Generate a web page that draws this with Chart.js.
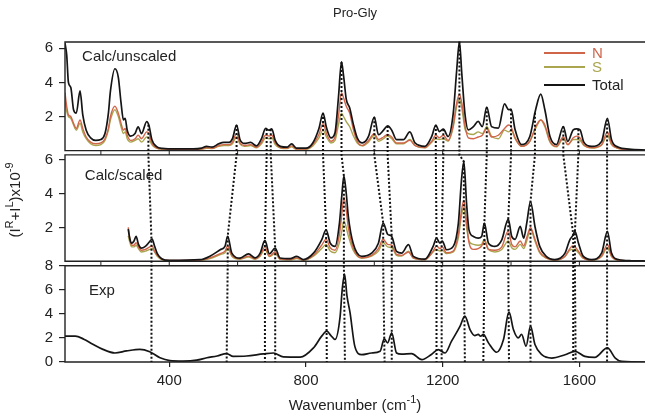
<!DOCTYPE html>
<html>
<head>
<meta charset="utf-8">
<script src="https://cdn.jsdelivr.net/npm/chart.js@4.4.1/dist/chart.umd.min.js"></script>
<style>
  html, body { margin: 0; padding: 0; background: #fff; overflow: hidden; }
</style>
</head>
<body>
<canvas id="chart" width="645" height="418"></canvas>
<script>
// Pro-Gly ROA 스펙트럼 - 계산(unscaled/scaled) vs 실험

// 축 눈금
const xTicks = [400, 800, 1200, 1600];
const gapTicks = [200, 400, 600, 800, 1000, 1200, 1400, 1600];
const calcTicks = [2, 4, 6];
const expTicks = [0, 2, 4, 6, 8];
const legendLabels = ['N', 'S', 'Total'];

// Calc/unscaled
const unscaledX = [95, 100, 105, 112, 120, 128, 139, 147, 157, 170,
  185, 200, 212, 222, 228, 241, 251, 259, 266, 271,
  277, 287, 300, 309, 319, 334, 341, 349, 362, 380,
  420, 470, 495, 509, 525, 545, 560, 575, 585, 597,
  607, 620, 638, 655, 670, 682, 692, 700, 710, 725,
  745, 758, 772, 800, 820, 838, 850, 860, 873, 885,
  895, 904, 910, 918, 928, 938, 950, 965, 983, 1000,
  1012, 1027, 1039, 1051, 1065, 1085, 1104, 1119, 1148, 1168,
  1180, 1190, 1202, 1216, 1231, 1241, 1249, 1256, 1265, 1275,
  1290, 1304, 1316, 1329, 1343, 1363, 1381, 1393, 1400, 1412,
  1431, 1455, 1472, 1487, 1499, 1514, 1533, 1553, 1566, 1582,
  1592, 1602, 1613, 1636, 1665, 1682, 1694, 1714, 1745, 1800];
const unscaledTotal = [6.3, 5.6, 4.0, 3.7, 2.4, 2.2, 3.5, 2.1, 1.2, 0.75,
  0.6, 0.65, 1.0, 2.2, 3.5, 4.8, 4.3, 2.8, 1.8, 1.9,
  1.2, 0.85, 1.0, 1.4, 1.0, 1.7, 1.45, 0.65, 0.25, 0.13,
  0.1, 0.1, 0.15, 0.25, 0.2, 0.4, 0.48, 0.48, 0.7, 1.5,
  0.65, 0.42, 0.48, 0.28, 0.7, 1.3, 1.2, 1.28, 0.6, 0.25,
  0.2, 0.4, 0.15, 0.15, 0.45, 1.3, 2.2, 1.35, 0.75, 1.05,
  3.1, 5.2, 4.4, 3.0, 2.5, 1.6, 0.75, 0.45, 0.83, 1.96,
  0.93, 1.2, 1.45, 1.2, 0.64, 0.64, 1.1, 0.45, 0.25, 0.83,
  1.5, 1.12, 1.26, 0.83, 2.2, 4.7, 6.4, 4.5, 2.2, 1.22,
  1.41, 1.71, 1.41, 2.55, 1.41, 1.32, 2.74, 2.4, 2.43, 1.22,
  0.35, 0.83, 2.4, 3.31, 2.4, 0.83, 0.35, 1.41, 0.54, 1.22,
  1.28, 1.22, 0.5, 0.25, 0.54, 1.9, 0.64, 0.2, 0.09, 0.03];
const unscaledN = [3.4, 2.6, 2.1, 2.0, 1.6, 1.3, 1.8, 1.3, 0.8, 0.5,
  0.4, 0.45, 0.7, 1.3, 2.0, 2.6, 2.2, 1.6, 1.2, 1.3,
  0.9, 0.6, 0.7, 0.9, 0.7, 1.1, 1.0, 0.45, 0.18, 0.1,
  0.07, 0.07, 0.1, 0.18, 0.14, 0.3, 0.35, 0.35, 0.5, 1.0,
  0.45, 0.3, 0.35, 0.2, 0.5, 0.9, 0.85, 0.9, 0.45, 0.18,
  0.15, 0.28, 0.1, 0.1, 0.35, 0.95, 1.6, 1.0, 0.55, 0.8,
  2.0, 3.4, 3.1, 2.6, 2.2, 1.3, 0.55, 0.3, 0.6, 1.0,
  0.65, 0.8, 0.95, 0.8, 0.45, 0.45, 0.6, 0.3, 0.18, 0.55,
  0.9, 0.75, 0.9, 0.6, 1.5, 2.8, 3.3, 2.8, 1.5, 0.75,
  0.7, 0.8, 0.9, 1.3, 0.8, 0.9, 1.3, 1.5, 1.4, 0.75,
  0.25, 0.55, 1.4, 1.8, 1.5, 0.55, 0.25, 0.8, 0.35, 0.75,
  0.85, 0.75, 0.35, 0.18, 0.35, 1.1, 0.4, 0.14, 0.06, 0.02];
const unscaledS = [2.9, 2.3, 2.0, 1.9, 1.5, 1.2, 1.6, 1.1, 0.7, 0.4,
  0.3, 0.35, 0.6, 1.2, 1.8, 2.4, 2.0, 1.4, 1.0, 1.1,
  0.7, 0.5, 0.6, 0.7, 0.5, 0.8, 0.7, 0.35, 0.15, 0.08,
  0.06, 0.06, 0.08, 0.14, 0.12, 0.25, 0.3, 0.3, 0.4, 0.8,
  0.38, 0.25, 0.3, 0.16, 0.4, 0.75, 0.7, 0.75, 0.35, 0.15,
  0.12, 0.22, 0.08, 0.08, 0.28, 0.75, 1.2, 0.8, 0.45, 0.6,
  1.5, 2.2, 2.0, 1.7, 1.4, 0.9, 0.45, 0.28, 0.5, 0.9,
  0.55, 0.7, 0.85, 0.7, 0.4, 0.4, 0.65, 0.3, 0.16, 0.5,
  0.7, 0.65, 0.7, 0.55, 1.4, 2.6, 3.0, 2.5, 1.3, 1.0,
  0.95, 1.1, 1.0, 1.4, 0.85, 0.7, 1.2, 1.1, 1.2, 0.7,
  0.25, 0.55, 1.3, 1.8, 1.4, 0.5, 0.22, 0.7, 0.35, 0.65,
  0.65, 0.6, 0.3, 0.15, 0.32, 0.9, 0.35, 0.12, 0.05, 0.02];

// Calc/scaled
const scaledX = [280, 285, 290, 297, 303, 310, 318, 330, 343, 350,
  357, 365, 378, 400, 490, 519, 549, 563, 571, 583,
  607, 632, 651, 666, 680, 693, 710, 724, 754, 773,
  792, 822, 846, 859, 871, 885, 898, 905, 911, 918,
  924, 938, 963, 992, 1012, 1026, 1039, 1051, 1065, 1080,
  1100, 1114, 1148, 1172, 1182, 1192, 1199, 1211, 1231, 1246,
  1255, 1262, 1270, 1277, 1290, 1304, 1314, 1322, 1334, 1353,
  1373, 1392, 1402, 1412, 1427, 1437, 1446, 1457, 1470, 1484,
  1503, 1528, 1558, 1572, 1580, 1587, 1597, 1611, 1636, 1665,
  1682, 1694, 1714, 1753, 1800];
const scaledTotal = [1.9, 1.3, 1.07, 1.2, 1.47, 1.0, 0.78, 0.88, 1.17, 1.31,
  0.9, 0.45, 0.15, 0.05, 0.09, 0.3, 0.68, 0.88, 1.47, 0.48,
  0.19, 0.44, 0.2, 0.48, 1.23, 0.44, 0.78, 0.19, 0.15, 0.29,
  0.1, 0.48, 1.27, 1.86, 1.07, 0.88, 2.26, 3.9, 5.06, 4.0,
  2.65, 1.07, 0.29, 0.48, 1.07, 2.26, 1.6, 1.47, 0.58, 0.48,
  0.98, 0.29, 0.13, 0.88, 1.37, 1.07, 1.2, 0.68, 0.88, 2.26,
  4.8, 5.9, 3.4, 1.86, 1.47, 1.37, 1.47, 2.26, 1.07, 0.88,
  1.27, 2.5, 1.47, 1.3, 2.06, 1.37, 2.26, 3.54, 2.06, 0.88,
  0.29, 0.1, 0.48, 1.27, 1.5, 1.77, 1.1, 0.3, 0.1, 0.48,
  1.77, 0.48, 0.1, 0.03, 0.01];
const scaledN = [2.0, 1.3, 0.95, 0.95, 1.1, 0.85, 0.65, 0.7, 0.85, 0.9,
  0.6, 0.35, 0.12, 0.04, 0.07, 0.2, 0.45, 0.6, 0.9, 0.35,
  0.15, 0.3, 0.15, 0.35, 0.85, 0.3, 0.55, 0.14, 0.1, 0.2,
  0.07, 0.35, 0.95, 1.3, 0.8, 0.65, 1.6, 2.8, 3.8, 3.0,
  2.0, 0.8, 0.2, 0.35, 0.75, 1.3, 1.0, 0.95, 0.4, 0.35,
  0.55, 0.2, 0.1, 0.6, 0.9, 0.75, 0.85, 0.5, 0.6, 1.6,
  3.0, 3.6, 2.3, 1.1, 0.7, 0.75, 0.9, 1.2, 0.7, 0.65,
  0.85, 1.8, 1.0, 0.85, 1.2, 0.9, 1.4, 2.0, 1.3, 0.55,
  0.2, 0.07, 0.3, 0.75, 0.9, 0.85, 0.6, 0.2, 0.07, 0.3,
  1.0, 0.3, 0.07, 0.02, 0.01];
const scaledS = [1.5, 1.1, 0.85, 0.85, 0.95, 0.75, 0.55, 0.6, 0.7, 0.75,
  0.55, 0.3, 0.1, 0.03, 0.05, 0.15, 0.4, 0.5, 0.75, 0.3,
  0.12, 0.25, 0.12, 0.3, 0.7, 0.28, 0.45, 0.12, 0.08, 0.16,
  0.06, 0.3, 0.75, 1.0, 0.6, 0.5, 1.1, 1.8, 2.4, 2.0,
  1.5, 0.65, 0.18, 0.3, 0.6, 1.1, 0.85, 0.8, 0.35, 0.3,
  0.6, 0.18, 0.08, 0.55, 0.7, 0.6, 0.65, 0.45, 0.55, 1.4,
  2.7, 3.2, 2.0, 1.2, 1.0, 0.95, 1.0, 1.3, 0.7, 0.55,
  0.7, 1.2, 0.8, 0.7, 1.0, 0.75, 1.2, 1.9, 1.2, 0.5,
  0.18, 0.06, 0.28, 0.65, 0.7, 0.7, 0.5, 0.18, 0.06, 0.28,
  0.8, 0.28, 0.06, 0.02, 0.01];

// Exp
const expX = [95, 125, 150, 175, 206, 241, 275, 314, 343, 373,
  402, 440, 480, 510, 540, 568, 587, 626, 675, 705,
  734, 783, 822, 846, 861, 873, 885, 900, 906, 913,
  920, 929, 943, 963, 992, 1017, 1029, 1039, 1051, 1065,
  1080, 1109, 1139, 1168, 1187, 1207, 1226, 1251, 1265, 1280,
  1294, 1304, 1311, 1319, 1334, 1358, 1378, 1394, 1407, 1421,
  1431, 1444, 1457, 1470, 1490, 1519, 1558, 1587, 1616, 1645,
  1682, 1705, 1724, 1800];
const expY = [2.15, 2.15, 1.9, 1.5, 1.05, 0.75, 0.92, 1.05, 0.85, 0.35,
  0.12, 0.08, 0.15, 0.35, 0.5, 0.7, 0.47, 0.5, 0.67, 0.75,
  0.42, 0.4, 1.17, 2.15, 2.56, 2.2, 1.87, 3.8, 6.0, 7.3,
  5.5, 4.1, 1.3, 0.61, 0.75, 0.89, 1.92, 1.59, 2.43, 0.75,
  0.65, 0.7, 0.2, 0.65, 1.03, 0.75, 1.73, 2.98, 3.82, 2.7,
  2.2, 2.29, 2.15, 2.29, 1.59, 0.81, 1.87, 4.16, 2.7, 2.0,
  2.29, 1.31, 2.98, 1.45, 0.61, 0.33, 0.6, 0.89, 0.47, 0.38,
  1.17, 0.33, 0.05, 0.0];

// 대응 피크 (점선 연결)
const peaksUnscaled = [339, 597, 685, 697, 850, 904, 1000, 1039, 1180, 1202, 1249, 1329, 1400, 1470, 1553, 1597, 1681];
const peaksScaled = [348, 571, 680, 710, 859, 911, 1026, 1051, 1182, 1197, 1262, 1322, 1392, 1457, 1582, 1587, 1681];
const peaksExp = [348, 568, 680, 710, 861, 914, 1030, 1051, 1182, 1197, 1265, 1319, 1394, 1457, 1582, 1589, 1681];

const COLOR_N = '#d0654a';
const COLOR_S = '#a9a64f';
const COLOR_T = '#151515';
const TEXT = '#222';
const FONT = "'Liberation Sans', Arial, sans-serif";

Chart.defaults.font.family = FONT;
Chart.defaults.font.size = 15;
Chart.defaults.color = TEXT;

function pts(xs, ys) {
  return xs.map((x, i) => ({ x: x, y: ys[i] }));
}

// 선형 보간 (점선 시작점 높이용)
function valueAt(xs, ys, v) {
  for (let i = 1; i < xs.length; i++) {
    if (xs[i] >= v) {
      const t = (v - xs[i - 1]) / (xs[i] - xs[i - 1]);
      return ys[i - 1] + t * (ys[i] - ys[i - 1]);
    }
  }
  return ys[ys.length - 1];
}

function lineSet(label, xs, ys, axis, color, width) {
  return {
    label: label,
    data: pts(xs, ys),
    yAxisID: axis,
    borderColor: color,
    borderWidth: width,
    pointRadius: 0,
    cubicInterpolationMode: 'monotone',
    fill: false
  };
}

function yAxis(weight, min, max, ticks) {
  return {
    type: 'linear',
    position: 'left',
    stack: 'panels',
    stackWeight: weight,
    min: min,
    max: max,
    afterBuildTicks: s => { s.ticks = ticks.map(v => ({ value: v })); },
    afterFit: s => { s.width = 65; },
    grid: { drawOnChartArea: false, drawTicks: true, tickLength: 6, color: TEXT, lineWidth: 1.2 },
    border: { display: false },
    ticks: { padding: 6, color: TEXT, autoSkip: false, font: { size: 15 } }
  };
}

// 텍스트 + 위첨자
function drawRich(ctx, parts, cx, cy) {
  const base = '15px ' + FONT;
  const sup = '11px ' + FONT;
  let w = 0;
  parts.forEach(p => { ctx.font = p[1] ? sup : base; w += ctx.measureText(p[0]).width; });
  let x = cx - w / 2;
  parts.forEach(p => {
    ctx.font = p[1] ? sup : base;
    ctx.fillText(p[0], x, p[1] ? cy - 6 : cy);
    x += ctx.measureText(p[0]).width;
  });
}

const panelDecor = {
  id: 'panelDecor',
  afterDatasetsDraw(chart) {
    const { ctx, chartArea, scales } = chart;
    const xs = scales.x, yU = scales.yU, yS = scales.yS, yE = scales.yE;
    ctx.save();

    // 패널 테두리
    ctx.strokeStyle = TEXT;
    ctx.lineWidth = 1.4;
    [yU, yS, yE].forEach(s => {
      const top = s.getPixelForValue(s.max), bottom = s.getPixelForValue(0);
      ctx.beginPath();
      ctx.moveTo(chartArea.right + 5, top);
      ctx.lineTo(xs.left, top);
      ctx.lineTo(xs.left, bottom);
      ctx.lineTo(chartArea.right + 5, bottom);
      ctx.stroke();
    });

    // 패널 사이 작은 눈금
    ctx.lineWidth = 1;
    gapTicks.forEach(v => {
      const px = xs.getPixelForValue(v);
      ctx.beginPath();
      ctx.moveTo(px, yU.getPixelForValue(0)); ctx.lineTo(px, yS.top);
      ctx.moveTo(px, yS.getPixelForValue(0)); ctx.lineTo(px, yE.top);
      ctx.stroke();
    });

    // 피크 연결 점선
    ctx.setLineDash([2, 2]);
    ctx.lineWidth = 2;
    ctx.strokeStyle = '#111';
    peaksUnscaled.forEach((pu, i) => {
      const ps = peaksScaled[i], pe = peaksExp[i];
      const xu = xs.getPixelForValue(pu), xsc = xs.getPixelForValue(ps), xe = xs.getPixelForValue(pe);
      ctx.beginPath();
      ctx.moveTo(xu, yU.getPixelForValue(valueAt(unscaledX, unscaledTotal, pu)));
      ctx.lineTo(xu, yU.getPixelForValue(0));
      ctx.lineTo(xu, yS.top);
      ctx.lineTo(xsc, yS.getPixelForValue(valueAt(scaledX, scaledTotal, ps)));
      ctx.lineTo(xsc, yS.getPixelForValue(0));
      ctx.lineTo(xsc, yE.top);
      ctx.lineTo(xe, yE.getPixelForValue(0));
      ctx.stroke();
    });
    ctx.setLineDash([]);

    // 패널 라벨
    ctx.fillStyle = TEXT;
    ctx.font = '15px ' + FONT;
    ctx.textBaseline = 'middle';
    ctx.textAlign = 'left';
    ctx.fillText('Calc/unscaled', xs.getPixelForValue(145), yU.getPixelForValue(5.5));
    ctx.fillText('Calc/scaled', xs.getPixelForValue(153), yS.getPixelForValue(5.05));
    ctx.fillText('Exp', xs.getPixelForValue(165), yE.getPixelForValue(5.9));

    // 범례
    const legendColors = [COLOR_N, COLOR_S, COLOR_T];
    const legendY = [53, 67, 85];
    legendLabels.forEach((lab, i) => {
      ctx.strokeStyle = legendColors[i];
      ctx.lineWidth = 2;
      ctx.beginPath();
      ctx.moveTo(544, legendY[i]);
      ctx.lineTo(585, legendY[i]);
      ctx.stroke();
      ctx.fillStyle = i < 2 ? legendColors[i] : TEXT;
      ctx.fillText(lab, 592, legendY[i] + 1);
    });

    // 축 제목
    ctx.fillStyle = TEXT;
    ctx.textAlign = 'left';
    drawRich(ctx, [['Wavenumber (cm', false], ['-1', true], [')', false]], (xs.left + xs.right) / 2, 406);
    ctx.translate(16, 200);
    ctx.rotate(-Math.PI / 2);
    drawRich(ctx, [['(I', false], ['R', true], ['+I', false], ['L', true], [')x10', false], ['-9', true]], 0, 0);
    ctx.restore();
  }
};

new Chart(document.getElementById('chart'), {
  type: 'line',
  data: {
    datasets: [
      lineSet('Total', unscaledX, unscaledTotal, 'yU', COLOR_T, 1.7),
      lineSet('N', unscaledX, unscaledN, 'yU', COLOR_N, 1.4),
      lineSet('S', unscaledX, unscaledS, 'yU', COLOR_S, 1.4),
      lineSet('Total', scaledX, scaledTotal, 'yS', COLOR_T, 1.7),
      lineSet('N', scaledX, scaledN, 'yS', COLOR_N, 1.4),
      lineSet('S', scaledX, scaledS, 'yS', COLOR_S, 1.4),
      lineSet('Exp', expX, expY, 'yE', COLOR_T, 1.7)
    ]
  },
  options: {
    responsive: false,
    animation: false,
    layout: { padding: { left: 0, right: 0, top: 0, bottom: 0 } },
    scales: {
      x: {
        type: 'linear',
        min: 95,
        max: 1792,
        afterBuildTicks: s => { s.ticks = xTicks.map(v => ({ value: v })); },
        afterFit: s => { s.height = 56; },
        grid: { drawOnChartArea: false, drawTicks: true, tickLength: 5, color: TEXT, lineWidth: 1.2 },
        border: { display: false },
        ticks: { padding: 5, color: TEXT, maxRotation: 0, font: { size: 15 }, callback: v => String(v) }
      },
      // 스택 축은 아래쪽부터 배치됨
      yE: yAxis(96.3, 0, 8, expTicks),
      yS: yAxis(111, -0.27, 6.3, calcTicks),
      yU: yAxis(113, -0.25, 6.37, calcTicks)
    },
    plugins: {
      legend: { display: false },
      tooltip: { enabled: false },
      title: {
        display: true,
        text: 'Pro-Gly',
        fullSize: false,
        color: TEXT,
        font: { size: 13, weight: 'normal' },
        padding: { top: 6, bottom: 20.4 }
      }
    }
  },
  plugins: [panelDecor]
});
</script>
</body>
</html>
